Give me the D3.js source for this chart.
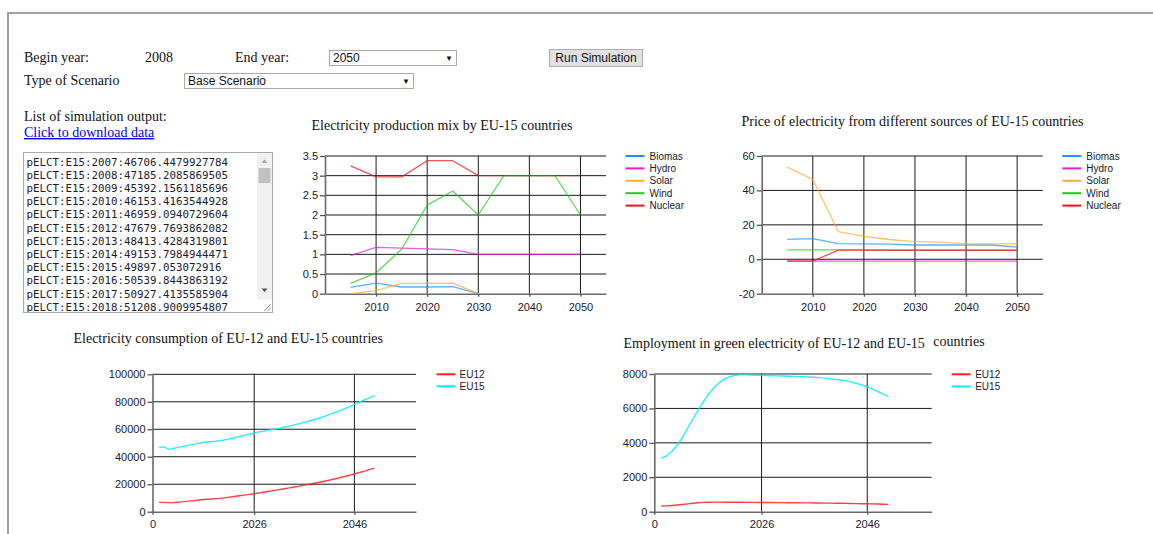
<!DOCTYPE html>
<html><head><meta charset="utf-8">
<script src="https://cdn.jsdelivr.net/npm/d3@7"></script>
<style>
body{margin:0;background:#fff;overflow:hidden;}
svg{display:block;}
</style></head><body>
<svg id="page" width="1153" height="534"></svg>
<script>
// ---------------- DATA ----------------
const seriesNames = ["Biomas", "Hydro", "Solar", "Wind", "Nuclear"];
const seriesColors = ["#1E90FF", "#E020D0", "#FFAA33", "#22C822", "#E8141E"];

const prodYears = [2005, 2010, 2015, 2020, 2025, 2030, 2035, 2040, 2045, 2050];
const mixBiomas  = [0.16, 0.27, 0.17, 0.17, 0.18, 0.0, null, null, null, null];
const mixHydro   = [0.97, 1.18, 1.16, 1.14, 1.12, 1.0, 1.0, 1.0, 1.0, 1.0];
const mixSolar   = [0.0, 0.08, 0.26, 0.26, 0.27, 0.0, null, null, null, null];
const mixWind    = [0.26, 0.53, 1.13, 2.25, 2.61, 2.0, 3.0, 3.0, 3.0, 2.0];
const mixNuclear = [3.25, 2.97, 2.97, 3.38, 3.38, 3.0, 3.0, 3.0, 3.0, 3.0];

const priceBiomas  = [11.6, 12.0, 9.1, 9.0, 8.8, 8.3, 8.3, 8.3, 8.3, 7.0];
const priceHydro   = [-1.1, -1.1, -1.1, -1.1, -1.1, -1.1, -1.1, -1.1, -1.1, -1.1];
const priceSolar   = [53.5, 46.3, 16.0, 13.3, 11.5, 10.2, 10.0, 9.0, 9.0, 9.0];
const priceWind    = [5.5, 5.5, 5.5, 5.5, 5.5, 5.5, 5.5, 5.5, 5.5, 5.5];
const priceNuclear = [-1.1, -1.1, 5.3, 5.3, 5.2, 5.2, 5.2, 5.2, 5.2, 5.2];

const mixTicksY = [0, 0.5, 1, 1.5, 2, 2.5, 3, 3.5];
const priceTicksY = [-20, 0, 20, 40, 60];
const topTicksX = [2010, 2020, 2030, 2040, 2050];

// simulation output list (first rows)
const outputYears  = ["2007","2008","2009","2010","2011","2012","2013","2014","2015","2016","2017","2018"];
const outputValues = ["46706.4479927784","47185.2085869505","45392.1561185696","46153.4163544928",
  "46959.0940729604","47679.7693862082","48413.4284319801","49153.7984944471","49897.053072916",
  "50539.8443863192","50927.4135585904","51208.9009954807"];

const regionNames = ["EU12", "EU15"];
const regionColors = ["#FF2020", "#00EEF5"];
const annualYears = [2007,2008,2009,2010,2011,2012,2013,2014,2015,2016,2017,2018,2019,2020,2021,2022,
  2023,2024,2025,2026,2027,2028,2029,2030,2031,2032,2033,2034,2035,2036,2037,2038,2039,2040,2041,2042,
  2043,2044,2045,2046,2047,2048,2049,2050];
const consEU12 = [6800,6800,6600,6700,7000,7300,7700,8100,8500,8900,9200,9400,9700,10100,10600,11100,
  11600,12100,12600,13100,13700,14300,14900,15500,16100,16700,17300,18000,18600,19300,20000,20700,21400,
  22200,23000,23800,24700,25600,26500,27500,28500,29500,30600,31700];
const consEU15Later = [51600,52200,53000,53800,54700,55600,56500,57400,58100,58800,59400,60000,60700,
  61500,62300,63200,64100,65000,66000,67000,68200,69400,70700,72000,73400,74900,76500,78100,79700,81300,82900,84500];
const emplEU12 = [330,340,360,390,420,455,490,520,540,550,555,555,552,550,548,546,544,542,540,538,535,532,
  529,526,523,520,517,514,511,508,504,500,496,492,488,484,478,472,466,460,452,444,436,428];
const emplEU15 = [3100,3250,3500,3850,4300,4850,5400,5900,6400,6850,7200,7500,7720,7850,7920,7950,7950,7940,
  7930,7920,7910,7900,7890,7880,7870,7860,7850,7840,7830,7810,7790,7760,7730,7690,7650,7600,7530,7450,7360,
  7260,7120,6980,6830,6680];
const consTicksY = [0, 20000, 40000, 60000, 80000, 100000];
const emplTicksY = [0, 2000, 4000, 6000, 8000];
const bottomTicksX = [2005.7, 2026, 2046];
const bottomTickLabels = ["0", "2026", "2046"];

// ---------------- DRAW ----------------
const svg = d3.select("#page");
const SANS = "'Liberation Sans', Arial, sans-serif";
const SERIF = "'Liberation Serif', 'Times New Roman', serif";
const SERIF_SIZE = 14;

// page frame
svg.append("line").attr("x1", 8).attr("x2", 1153).attr("y1", 13).attr("y2", 13)
  .attr("stroke", "#a0a0a0").attr("stroke-width", 2);
svg.append("line").attr("x1", 8).attr("x2", 8).attr("y1", 12).attr("y2", 534)
  .attr("stroke", "#a0a0a0").attr("stroke-width", 2);

function serifText(x, y, t, opts = {}) {
  return svg.append("text").attr("x", x).attr("y", y).text(t)
    .attr("font-family", SERIF).attr("font-size", opts.size || SERIF_SIZE)
    .attr("fill", opts.fill || "#111");
}

// form
serifText(24, 61.5, "Begin year:");
serifText(145, 61.5, "2008");
serifText(235, 61.5, "End year:");
serifText(24, 84.5, "Type of Scenario");

function selectBox(x, y, w, label) {
  svg.append("rect").attr("x", x + 0.5).attr("y", y + 0.5).attr("width", w).attr("height", 15)
    .attr("fill", "#fff").attr("stroke", "#a9a9a9");
  svg.append("text").attr("x", x + 4).attr("y", y + 12).text(label)
    .attr("font-family", SANS).attr("font-size", 12).attr("fill", "#111");
  svg.append("text").attr("x", x + w - 7).attr("y", y + 11).text("▼").attr("text-anchor", "middle")
    .attr("font-family", SANS).attr("font-size", 8).attr("fill", "#111");
}
selectBox(329, 50, 127, "2050");
selectBox(184, 73, 229, "Base Scenario");

svg.append("rect").attr("x", 549.5).attr("y", 49.5).attr("width", 93).attr("height", 17)
  .attr("fill", "#e1e1e1").attr("stroke", "#adadad");
svg.append("text").attr("x", 596).attr("y", 62).text("Run Simulation").attr("text-anchor", "middle")
  .attr("font-family", SANS).attr("font-size", 12).attr("fill", "#111");

serifText(24, 121, "List of simulation output:");
serifText(24, 137, "Click to download data", { fill: "#0000EE" }).attr("text-decoration", "underline");

// textarea
svg.append("rect").attr("x", 23.5).attr("y", 152.5).attr("width", 249).attr("height", 160)
  .attr("fill", "#fff").attr("stroke", "#a9a9a9");
svg.append("clipPath").attr("id", "taClip").append("rect")
  .attr("x", 24).attr("y", 153).attr("width", 233).attr("height", 159);
const ta = svg.append("g").attr("clip-path", "url(#taClip)");
ta.selectAll("text").data(outputYears).join("text")
  .attr("x", 26.5).attr("y", (d, i) => 165.5 + i * 13.2)
  .text((d, i) => "pELCT:E15:" + d + ":" + outputValues[i])
  .attr("font-family", "'DejaVu Sans Mono', monospace").attr("font-size", 10.8).attr("fill", "#1c1c2c");
// scrollbar
svg.append("rect").attr("x", 257).attr("y", 153).attr("width", 15).attr("height", 146).attr("fill", "#f0f0f0");
svg.append("path").attr("d", "M261.5,163 L264.5,159.5 L267.5,163 Z").attr("fill", "#a3a3a3");
svg.append("rect").attr("x", 258.5).attr("y", 168).attr("width", 12).attr("height", 15).attr("fill", "#c1c1c1");
svg.append("path").attr("d", "M261.5,288.5 L267.5,288.5 L264.5,292 Z").attr("fill", "#505050");
svg.append("rect").attr("x", 257).attr("y", 299).attr("width", 15).attr("height", 13).attr("fill", "#fff");
svg.append("path").attr("d", "M264,311 L271,304 M267.5,311 L271,307.5").attr("stroke", "#999").attr("stroke-width", 1);

// chart builder
function drawChart(cfg) {
  const g = svg.append("g");
  const x = d3.scaleLinear().domain(cfg.xDomain).range([cfg.left, cfg.right]);
  const y = d3.scaleLinear().domain(cfg.yDomain).range([cfg.bottom, cfg.top]);

  // title
  const t = g.append("text").attr("x", cfg.titleX).attr("y", cfg.titleY)
    .attr("font-family", SERIF).attr("font-size", SERIF_SIZE).attr("fill", "#111");
  t.append("tspan").text(cfg.title);
  if (cfg.titleTail) {
    t.append("tspan").attr("x", cfg.titleTailX).attr("dy", -2).text(cfg.titleTail);
  }

  // horizontal grid
  g.append("g").selectAll("line").data(cfg.yTicks.filter(v => v !== cfg.yDomain[0])).join("line")
    .attr("x1", cfg.left).attr("x2", cfg.right)
    .attr("y1", d => y(d)).attr("y2", d => y(d))
    .attr("stroke", "#1a1a1a").attr("stroke-width", 1);
  // vertical grid
  g.append("g").selectAll("line").data(cfg.xGrid).join("line")
    .attr("x1", d => x(d)).attr("x2", d => x(d))
    .attr("y1", cfg.top).attr("y2", cfg.bottom)
    .attr("stroke", "#1a1a1a").attr("stroke-width", 1);

  // axes
  const ya = d3.axisLeft(y).tickValues(cfg.yTicks).tickSize(5).tickPadding(2).tickSizeOuter(0)
    .tickFormat(d => String(d));
  const yg = g.append("g").attr("transform", `translate(${cfg.left},0)`).call(ya);
  const xa = d3.axisBottom(x).tickValues(cfg.xTicks).tickSize(3).tickPadding(cfg.xPad).tickSizeOuter(0)
    .tickFormat((d, i) => cfg.xLabels ? cfg.xLabels[i] : String(d));
  const xg = g.append("g").attr("transform", `translate(0,${cfg.bottom})`).call(xa);
  [yg, xg].forEach(a => {
    a.selectAll("text").attr("font-family", SANS).attr("font-size", 11).attr("fill", "#1a1a2a");
    a.selectAll(".tick line").attr("stroke", "#555").attr("stroke-width", 1.3);
    a.select(".domain").attr("stroke", "#6a6a6a").attr("stroke-width", 1.6);
  });

  // lines
  const line = d3.line().defined(d => d[1] !== null)
    .x(d => x(d[0])).y(d => y(d[1]));
  cfg.series.forEach((vals, i) => {
    g.append("path").datum(cfg.xs.map((yr, j) => [yr, vals[j]]))
      .attr("d", line).attr("fill", "none")
      .attr("stroke", cfg.colors[i]).attr("stroke-width", cfg.lineWidth)
      .attr("stroke-opacity", cfg.lineOpacity).attr("stroke-linejoin", "round");
  });

  // legend
  const lg = g.append("g");
  cfg.names.forEach((n, i) => {
    const ly = cfg.legendY + i * cfg.legendStep;
    lg.append("line").attr("x1", cfg.legendX).attr("x2", cfg.legendX + 19)
      .attr("y1", ly).attr("y2", ly).attr("stroke", cfg.colors[i]).attr("stroke-width", 2);
    lg.append("text").attr("x", cfg.legendX + cfg.legendTextDx).attr("y", ly).attr("dy", "0.35em")
      .text(n).attr("font-family", SANS).attr("font-size", 10).attr("fill", "#1a1a2a");
  });
}

drawChart({
  title: "Electricity production mix by EU-15 countries", titleX: 311.5, titleY: 129.5,
  xDomain: [2000, 2055], yDomain: [0, 3.5], left: 325, right: 606, top: 156, bottom: 293.7,
  yTicks: mixTicksY, xTicks: topTicksX, xGrid: topTicksX, xPad: 6.5,
  xs: prodYears, series: [mixBiomas, mixHydro, mixSolar, mixWind, mixNuclear],
  names: seriesNames, colors: seriesColors, lineWidth: 1.3, lineOpacity: 0.72,
  legendX: 625.5, legendY: 156, legendStep: 12.4, legendTextDx: 24
});

drawChart({
  title: "Price of electricity from different sources of EU-15 countries", titleX: 741.5, titleY: 125.5,
  xDomain: [2000, 2055], yDomain: [-20, 60], left: 761.7, right: 1042.7, top: 156, bottom: 293.7,
  yTicks: priceTicksY, xTicks: topTicksX, xGrid: topTicksX, xPad: 6.5,
  xs: prodYears, series: [priceBiomas, priceHydro, priceSolar, priceWind, priceNuclear],
  names: seriesNames, colors: seriesColors, lineWidth: 1.3, lineOpacity: 0.72,
  legendX: 1062.3, legendY: 156, legendStep: 12.4, legendTextDx: 24
});

const consEU15 = outputValues.map(Number).concat(consEU15Later);

drawChart({
  title: "Electricity consumption of EU-12 and EU-15 countries", titleX: 73.5, titleY: 342.5,
  xDomain: [2005.7, 2058.3], yDomain: [0, 100000], left: 152.5, right: 416, top: 374.3, bottom: 511.7,
  yTicks: consTicksY, xTicks: bottomTicksX, xLabels: bottomTickLabels, xGrid: [2026, 2046], xPad: 5.5,
  xs: annualYears, series: [consEU12, consEU15],
  names: regionNames, colors: regionColors, lineWidth: 1.4, lineOpacity: 0.85,
  legendX: 436.5, legendY: 374.3, legendStep: 12, legendTextDx: 23
});

drawChart({
  title: "Employment in green electricity of EU-12 and EU-15", titleX: 623.5, titleY: 347.5,
  titleTail: "countries", titleTailX: 933.3,
  xDomain: [2005.7, 2058.2], yDomain: [0, 8000], left: 654.3, right: 931.7, top: 374, bottom: 511.7,
  yTicks: emplTicksY, xTicks: bottomTicksX, xLabels: bottomTickLabels, xGrid: [2026, 2046], xPad: 5.5,
  xs: annualYears, series: [emplEU12, emplEU15],
  names: regionNames, colors: regionColors, lineWidth: 1.4, lineOpacity: 0.85,
  legendX: 951.7, legendY: 374.3, legendStep: 12.2, legendTextDx: 23.5
});
</script></body></html>
